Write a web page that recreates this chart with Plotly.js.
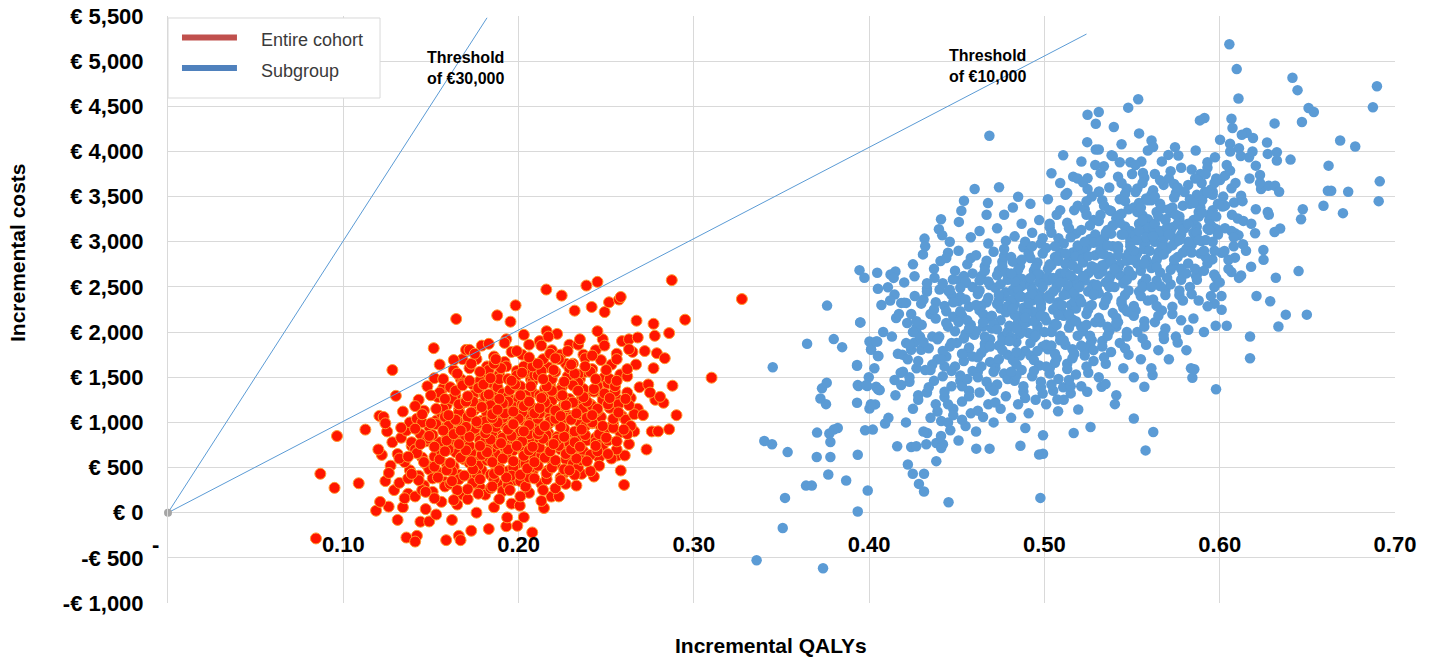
<!DOCTYPE html>
<html><head><meta charset="utf-8">
<script src="https://cdn.plot.ly/plotly-3.0.1.min.js"></script>
<style>html,body{margin:0;padding:0;background:#fff}</style>
</head><body><div id="chart" style="width:1431px;height:657px"></div>
<script>
const xTickVals = [0, 0.1, 0.2, 0.3, 0.4, 0.5, 0.6, 0.7];
const xTickText = ['-\u00a0\u00a0\u00a0\u00a0', '0.10', '0.20', '0.30', '0.40', '0.50', '0.60', '0.70'];
const yTickVals = [-1000, -500, 0, 500, 1000, 1500, 2000, 2500, 3000, 3500, 4000, 4500, 5000, 5500];
const yTickText = ['-€ 1,000', '-€ 500', '€ 0', '€ 500', '€ 1,000', '€ 1,500', '€ 2,000', '€ 2,500', '€ 3,000', '€ 3,500', '€ 4,000', '€ 4,500', '€ 5,000', '€ 5,500'];
const seriesNames = ['Entire cohort', 'Subgroup'];
const axisTitles = ['Incremental QALYs', 'Incremental costs'];
const thresholdLabels = ['Threshold<br>of €30,000', 'Threshold<br>of €10,000'];
const threshold30QALY = [0, 0.182];
const threshold30Cost = [0, 5480];
const threshold10QALY = [0, 0.524];
const threshold10Cost = [0, 5300];
const originQALY = [0];
const originCost = [0];

const cohortPoints = [
[0.1206,1072],[0.1126,920],[0.0964,849],[0.0869,431],[0.095,275],[0.1088,326],[0.1187,22],[0.1259,67],[0.0844,-285],[0.130,1294],
[0.121,120],[0.124,350],[0.127,520],[0.122,640],[0.128,780],[0.125,900],[0.129,250],[0.123,1060],[0.126,440],[0.120,700],[0.128,1580],[0.124,990],
[0.131,-80],[0.134,60],[0.137,210],[0.132,330],[0.138,470],[0.135,560],[0.131,650],[0.139,740],[0.133,830],[0.136,910],[0.138,1000],[0.134,1120],[0.137,380],[0.132,600],[0.139,780],[0.136,-275],[0.135,160],[0.133,940],
[0.142,-256],[0.141,-320],[0.144,-100],[0.147,40],[0.141,180],[0.146,300],[0.143,410],[0.148,520],[0.145,610],[0.141,700],[0.147,790],[0.144,870],[0.149,950],[0.142,1040],[0.146,1130],[0.143,1250],[0.148,1400],[0.145,250],[0.149,480],[0.142,660],[0.148,820],[0.145,1000],[0.141,1180],[0.149,-97],
[0.1587,-304],[0.153,-20],[0.156,120],[0.151,230],[0.158,340],[0.154,450],[0.159,540],[0.152,620],[0.157,700],[0.155,780],[0.151,860],[0.158,940],[0.153,1020],[0.156,1100],[0.159,1190],[0.154,1280],[0.157,1380],[0.152,1490],[0.1516,1822],[0.155,1640],[0.158,290],[0.152,510],[0.156,670],[0.159,820],[0.153,980],[0.157,1150],[0.155,1330],[0.151,380],[0.158,1060],
[0.1659,-256],[0.1669,-304],[0.162,-80],[0.165,90],[0.168,200],[0.161,320],[0.166,420],[0.163,510],[0.169,590],[0.164,670],[0.161,750],[0.167,830],[0.163,900],[0.168,980],[0.162,1060],[0.166,1140],[0.169,1220],[0.164,1300],[0.161,1390],[0.167,1480],[0.163,1580],[0.168,1700],[0.1644,2145],[0.165,250],[0.162,460],[0.168,630],[0.164,800],[0.160,960],[0.166,1110],[0.162,1260],[0.168,1430],[0.166,370],[0.160,700],[0.165,1020],[0.170,1803],[0.172,1803],
[0.173,-200],[0.176,0],[0.171,150],[0.178,280],[0.174,380],[0.179,470],[0.172,550],[0.177,620],[0.175,690],[0.171,760],[0.178,830],[0.173,900],[0.176,960],[0.179,1020],[0.172,1080],[0.175,1140],[0.178,1200],[0.171,1270],[0.177,1340],[0.174,1420],[0.179,1510],[0.172,1600],[0.176,1700],[0.179,1850],[0.174,330],[0.177,520],[0.173,660],[0.178,800],[0.175,930],[0.171,1060],[0.177,1180],[0.174,1300],[0.178,1460],[0.173,1650],[0.176,430],[0.172,740],[0.177,990],[0.174,1230],
[0.183,-180],[0.186,60],[0.181,200],[0.188,320],[0.184,420],[0.189,500],[0.182,580],[0.187,650],[0.185,720],[0.181,790],[0.188,860],[0.183,920],[0.186,980],[0.189,1040],[0.182,1100],[0.185,1160],[0.188,1220],[0.181,1290],[0.187,1360],[0.184,1440],[0.189,1530],[0.182,1620],[0.186,1730],[0.183,1870],[0.1878,2185],[0.184,270],[0.187,460],[0.183,610],[0.188,760],[0.185,890],[0.181,1010],[0.187,1130],[0.184,1250],[0.188,1390],[0.183,1580],[0.186,370],[0.182,700],[0.187,950],[0.184,1190],[0.189,1480],
[0.193,-150],[0.1935,-52],[0.196,100],[0.191,240],[0.198,360],[0.194,460],[0.199,540],[0.192,620],[0.197,690],[0.195,760],[0.191,830],[0.198,890],[0.193,950],[0.196,1010],[0.199,1070],[0.192,1130],[0.195,1190],[0.198,1250],[0.191,1320],[0.197,1400],[0.194,1480],[0.199,1570],[0.192,1670],[0.196,1780],[0.193,1920],[0.1954,2115],[0.194,300],[0.197,500],[0.193,650],[0.198,800],[0.195,930],[0.191,1050],[0.197,1170],[0.194,1290],[0.198,1440],[0.193,1620],[0.196,410],[0.192,730],[0.197,990],[0.194,1230],[0.199,1520],[0.196,860],[0.192,1100],
[0.2078,-219],[0.1993,-145],[0.203,-50],[0.2007,78],[0.206,220],[0.201,350],[0.208,450],[0.204,540],[0.209,620],[0.202,700],[0.207,770],[0.205,840],[0.201,900],[0.208,960],[0.203,1020],[0.206,1080],[0.209,1140],[0.202,1200],[0.205,1260],[0.208,1330],[0.201,1400],[0.207,1480],[0.204,1560],[0.209,1650],[0.202,1750],[0.206,1860],[0.203,1970],[0.1983,2296],[0.204,290],[0.207,500],[0.203,660],[0.208,810],[0.205,940],[0.201,1060],[0.207,1180],[0.204,1300],[0.208,1450],[0.203,1620],[0.206,390],[0.202,730],[0.207,1000],[0.204,1240],[0.209,1520],[0.206,870],[0.202,1110],
[0.2145,52],[0.2187,178],[0.213,320],[0.216,430],[0.211,520],[0.218,600],[0.214,680],[0.219,750],[0.212,820],[0.217,880],[0.215,940],[0.211,1000],[0.218,1060],[0.213,1120],[0.216,1180],[0.219,1240],[0.212,1300],[0.215,1370],[0.218,1440],[0.211,1520],[0.217,1610],[0.214,1700],[0.219,1800],[0.212,1900],[0.216,2010],[0.214,250],[0.217,470],[0.213,640],[0.218,790],[0.215,920],[0.211,1040],[0.217,1160],[0.214,1280],[0.218,1410],[0.213,1570],[0.216,370],[0.212,720],[0.217,980],[0.214,1220],[0.219,1480],[0.216,860],[0.212,1100],[0.218,1760],[0.2158,2471],
[0.2269,319],[0.223,180],[0.226,440],[0.221,540],[0.228,620],[0.224,700],[0.229,770],[0.222,840],[0.227,900],[0.225,960],[0.221,1020],[0.228,1080],[0.223,1140],[0.226,1200],[0.229,1260],[0.222,1330],[0.225,1400],[0.228,1480],[0.221,1560],[0.227,1650],[0.224,1750],[0.229,1860],[0.222,1980],[0.2246,2404],[0.224,390],[0.227,590],[0.223,740],[0.228,870],[0.225,990],[0.221,1110],[0.227,1230],[0.224,1360],[0.228,1510],[0.223,1700],[0.226,480],[0.222,810],[0.227,1050],[0.224,1290],[0.229,1600],[0.226,930],
[0.233,300],[0.236,430],[0.231,540],[0.238,640],[0.234,720],[0.239,800],[0.232,870],[0.237,940],[0.235,1000],[0.231,1070],[0.238,1130],[0.233,1200],[0.236,1260],[0.239,1330],[0.232,1400],[0.235,1480],[0.238,1560],[0.231,1650],[0.237,1750],[0.234,1860],[0.232,2237],[0.234,500],[0.237,680],[0.233,830],[0.238,960],[0.235,1090],[0.231,1220],[0.237,1370],[0.234,1530],[0.238,1710],[0.236,580],[0.232,900],[0.237,1160],[0.234,1440],
[0.243,400],[0.2459,609],[0.246,520],[0.241,640],[0.248,740],[0.244,830],[0.249,910],[0.242,990],[0.247,1060],[0.245,1130],[0.241,1200],[0.248,1270],[0.243,1340],[0.246,1420],[0.249,1500],[0.242,1590],[0.247,1690],[0.244,1800],[0.248,1920],[0.2417,2278],[0.2491,2222],[0.2387,2515],[0.245,2556],[0.244,780],[0.247,950],[0.243,1100],[0.248,1250],[0.245,1400],[0.241,1560],[0.246,870],[0.242,1180],
[0.2564,634],[0.2606,634],[0.2583,467],[0.2602,308],[0.253,600],[0.256,700],[0.251,800],[0.258,890],[0.254,980],[0.259,1070],[0.252,1160],[0.257,1250],[0.255,1340],[0.251,1430],[0.258,1530],[0.253,1640],[0.256,1760],[0.259,1900],[0.2516,2330],[0.2573,2360],[0.2583,2389],[0.254,940],[0.257,1200],[0.252,1480],
[0.263,760],[0.266,900],[0.261,1030],[0.268,1150],[0.264,1270],[0.269,1390],[0.262,1510],[0.267,1640],[0.265,1780],[0.263,1920],[0.2673,2126],[0.266,1090],[0.262,1330],[0.264,960],
[0.273,700],[0.276,900],[0.271,1080],[0.278,1250],[0.274,1420],[0.277,1600],[0.272,1790],[0.277,2092],[0.2777,1959],[0.275,1330],
[0.2796,901],[0.2859,924],[0.2827,1217],[0.2807,1283],[0.2878,1406],[0.2789,1766],[0.2834,1711],[0.2859,1989],[0.2874,2575],[0.2901,1080],
[0.295,2137],[0.3101,1495],[0.3274,2366],
[0.152,160],[0.163,140],[0.177,210],[0.189,150],[0.201,180],[0.213,130],[0.147,230],[0.171,260],[0.195,250],[0.221,270],[0.185,290],
[0.143,360],[0.154,390],[0.162,350],[0.169,410],[0.178,370],[0.186,430],[0.193,390],[0.201,420],[0.209,380],[0.216,440],[0.224,360],[0.232,420],[0.139,430],[0.159,470],[0.174,480],[0.189,470],[0.205,490],[0.219,500],[0.229,470],[0.241,460],
[0.146,560],[0.155,590],[0.161,550],[0.167,610],[0.173,570],[0.179,640],[0.185,560],[0.191,600],[0.197,570],[0.203,630],[0.209,560],[0.215,610],[0.221,580],[0.227,650],[0.233,600],[0.239,570],[0.245,680],[0.251,650],[0.158,680],[0.170,690],[0.182,670],[0.194,700],[0.206,690],[0.218,680],[0.230,700],[0.137,620],
[0.144,760],[0.152,730],[0.159,800],[0.166,760],[0.172,840],[0.178,740],[0.184,810],[0.190,770],[0.196,850],[0.202,790],[0.208,730],[0.214,820],[0.220,760],[0.226,840],[0.232,780],[0.238,860],[0.244,740],[0.250,830],[0.256,790],[0.163,870],[0.181,880],[0.199,740],[0.211,870],[0.235,730],[0.149,850],[0.262,870],
[0.141,930],[0.150,990],[0.157,910],[0.164,1030],[0.170,950],[0.176,1010],[0.182,930],[0.188,1000],[0.194,920],[0.200,1040],[0.206,970],[0.212,910],[0.218,1010],[0.224,950],[0.230,1030],[0.236,920],[0.242,1000],[0.248,960],[0.254,1040],[0.260,920],[0.167,910],[0.185,1050],[0.203,900],[0.221,1040],[0.239,1050],[0.197,980],[0.215,960],
[0.145,1090],[0.153,1150],[0.160,1080],[0.166,1200],[0.173,1110],[0.179,1170],[0.185,1090],[0.191,1210],[0.197,1120],[0.203,1180],[0.209,1100],[0.215,1220],[0.221,1130],[0.227,1190],[0.233,1100],[0.239,1230],[0.245,1150],[0.251,1200],[0.257,1110],[0.263,1190],[0.170,1230],[0.188,1140],[0.206,1230],[0.224,1070],[0.242,1080],[0.212,1160],
[0.150,1300],[0.158,1260],[0.164,1350],[0.171,1290],[0.177,1380],[0.183,1310],[0.189,1260],[0.195,1360],[0.201,1300],[0.207,1400],[0.213,1270],[0.219,1350],[0.225,1300],[0.231,1410],[0.237,1280],[0.243,1370],[0.249,1320],[0.255,1400],[0.261,1260],[0.180,1420],[0.198,1420],[0.216,1400],[0.234,1350],[0.252,1270],[0.168,1410],
[0.157,1480],[0.165,1540],[0.172,1460],[0.178,1560],[0.184,1490],[0.190,1600],[0.196,1460],[0.202,1550],[0.208,1620],[0.214,1480],[0.220,1580],[0.226,1450],[0.232,1540],[0.238,1620],[0.244,1480],[0.250,1580],[0.256,1460],[0.262,1590],[0.186,1650],[0.211,1650],[0.230,1640],
[0.163,1690],[0.175,1760],[0.187,1700],[0.199,1790],[0.206,1720],[0.213,1850],[0.221,1710],[0.228,1790],[0.235,1920],[0.242,1740],[0.249,1850],[0.256,1700],[0.263,1810],[0.192,1880],[0.217,1950],[0.245,2010],[0.268,1940]
];

const subgroupPoints = [
[0.376,2293],[0.3949,2107],[0.4154,2156],[0.3646,1870],[0.3798,1922],[0.3846,1833],[0.345,1610],[0.3931,1628],[0.4002,1895],[0.4046,1895],[0.4011,1803],[0.4053,1736],[0.3731,1377],[0.3758,1439],[0.3722,1265],[0.3754,1202],[0.3939,1402],[0.3989,1402],[0.3998,1499],[0.405,1366],[0.4059,1358],[0.3931,1217],[0.4002,1154],[0.4034,1199],[0.4091,987],[0.3977,913],[0.4021,920],[0.3821,938],[0.3798,920],[0.3773,876],[0.3779,782],[0.3703,887],[0.3402,793],[0.3446,757],[0.3535,671],[0.3701,616],[0.3779,616],[0.3935,642],[0.3767,423],[0.3869,356],[0.364,300],[0.3673,300],[0.3992,245],[0.352,164],[0.3935,14],[0.3507,-170],[0.3358,-526],[0.3737,-615],[0.4453,115],[0.4221,534],[0.4249,431],[0.4313,431],[0.4284,319],[0.4313,234],[0.4383,571],[0.416,735],[0.424,727],[0.4269,735],[0.4326,757],[0.4383,771],[0.4421,757],[0.4411,716],[0.4331,883],[0.4463,913],[0.4411,1016],[0.4611,709],[0.4687,709],[0.4863,742],[0.4891,938],[0.4977,164],[0.497,645],[0.42,2326],
[0.4992,653],[0.4992,857],[0.5577,690],[0.5621,894],[0.551,1043],[0.5402,1202],[0.5263,949],[0.5167,883],[0.5193,1143],[0.5078,1124],[0.5074,1254],[0.5979,1366],[0.5844,1495],[0.5836,1599],[0.5855,1588],[0.6173,1711],[0.6173,1951],[0.5977,2070],[0.604,2070],[0.6335,2062],[0.6377,2193],[0.6497,2193],[0.6288,2341],[0.6011,2248],[0.597,2315],[0.5931,2285],[0.5821,2026],[0.576,1884],[0.5682,1922],[0.557,1394],[0.5326,1394],[0.5349,1424],[0.5244,1339],[0.5107,1388],[0.515,1321],[0.5617,1525],
[0.6055,5187],[0.6097,4912],[0.6107,4586],[0.6415,4817],[0.6444,4679],[0.6897,4723],[0.6874,4489],[0.6507,4482],[0.6537,4437],[0.6469,4326],[0.6313,4311],[0.6687,4121],[0.6773,4054],[0.6621,3843],[0.6913,3669],[0.6907,3450],[0.6636,3565],[0.6617,3565],[0.6733,3554],[0.6592,3398],[0.6703,3317],[0.6474,3361],[0.6464,3250],[0.6345,3146],[0.6313,3108],[0.6249,2908],[0.6179,2723],[0.632,2601],[0.645,2675],[0.6202,3094],[0.6274,3331],[0.6206,3361],[0.6404,3910],[0.6326,3899],[0.6326,3992],[0.6274,3973],[0.6236,3584],[0.6278,3621],[0.6316,3621],[0.6339,3554],[0.6206,3843],[0.623,3740],[0.6167,3936],[0.6187,3999],[0.611,4036],[0.6059,4085],[0.6002,4129],[0.6154,4207],[0.6126,4185],[0.6073,4260],[0.6067,4363],[0.5913,4371],[0.5887,4344],[0.5611,4121],[0.5863,4010],[0.5535,4578],[0.5478,4485],[0.5246,4407],[0.531,4437],[0.5293,4307],[0.5396,4270],[0.5244,4103],[0.5293,4021],[0.531,4021],[0.5107,3958],[0.5211,3888],[0.504,3758],[0.5383,3958],[0.543,3881],[0.5339,3836],[0.5164,3721],[0.5246,3703],[0.513,3539],[0.5246,3584],[0.5312,3558],[0.5553,3888],[0.5562,3762],[0.5745,4048],[0.5707,3962],[0.5764,3955],[0.5973,3936],[0.593,3881],[0.6002,3684],[0.603,3732],[0.6059,3788],[0.6067,3592],[0.5897,3651],[0.5916,3554],[0.596,3554],[0.6082,3435],[0.6122,3509],[0.6103,3257],[0.6135,3231],[0.6017,3391],[0.6087,3094],[0.6107,3072],[0.6067,3120],[0.6133,2972],[0.6087,2824],[0.6067,2664],[0.6122,2627],[0.6011,2879],[0.6027,2897],[0.5958,2805],[0.5969,2638],[0.5865,2619],[0.5897,3008],[0.583,2953],[0.5793,3158],[0.5869,3169],[0.5931,3147],[0.5973,3147],[0.4686,4174],
[0.4602,3584],[0.4741,3603],[0.4541,3454],[0.4526,3343],[0.4512,3220],[0.4678,3428],[0.485,3498],[0.4316,3035],[0.4398,3139],[0.4417,3072],[0.4307,2860],[0.445,2879],[0.4407,2786],[0.3945,2686],[0.3973,2601],[0.4046,2657],[0.4122,2638],[0.415,2671],[0.4259,2619],[0.405,2479],[0.4107,2497],[0.4145,2415],[0.4183,2323],[0.4211,2323],[0.4297,2315],[0.395,2107],[0.433,2479],[0.4402,2471],[0.4453,2452],[0.4516,2575],[0.4554,2545],[0.4478,2582],[0.4373,2601],[0.4217,2100],[0.4269,2007],[0.4211,1878],[0.4259,1884],[0.4297,1803],[0.4011,1811],[0.404,1895],[0.405,1736],[0.3931,1636],[0.3935,1413],[0.3983,1413],[0.404,1394],[0.4059,1358],[0.4145,1469],[0.4183,1413],[0.4193,1562],[0.4164,1759],[0.424,1803],
[0.403,1600],[0.407,2300],[0.401,1200],[0.408,2000],
[0.411,1050],[0.415,1300],[0.418,1550],[0.413,1950],[0.417,2200],[0.412,2350],[0.419,1750],[0.414,2600],
[0.421,1000],[0.425,1150],[0.428,1300],[0.423,1450],[0.427,1600],[0.422,1700],[0.429,1950],[0.424,2200],[0.426,2400],[0.420,2550],[0.425,2750],[0.428,1250],[0.423,1500],[0.427,2050],
[0.431,900],[0.435,1050],[0.438,1200],[0.433,1330],[0.437,1460],[0.432,1580],[0.439,1700],[0.434,1820],[0.436,1950],[0.430,2080],[0.435,2200],[0.438,2330],[0.433,2450],[0.437,2700],[0.432,2950],[0.439,1120],[0.434,1390],[0.436,1640],[0.431,1890],[0.438,2150],
[0.441,850],[0.445,1000],[0.448,1150],[0.443,1280],[0.447,1400],[0.442,1510],[0.449,1620],[0.444,1730],[0.446,1840],[0.440,1950],[0.445,2060],[0.448,2170],[0.443,2290],[0.447,2410],[0.442,2540],[0.449,2680],[0.444,2820],[0.446,3000],[0.441,3250],[0.448,1080],[0.443,1340],[0.447,1570],[0.442,1790],[0.449,2010],[0.444,2230],[0.446,2470],[0.445,1200],
[0.451,800],[0.455,960],[0.458,1100],[0.453,1230],[0.457,1350],[0.452,1460],[0.459,1570],[0.454,1680],[0.456,1780],[0.450,1880],[0.455,1980],[0.458,2080],[0.453,2180],[0.457,2280],[0.452,2390],[0.459,2500],[0.454,2620],[0.456,2750],[0.451,2900],[0.458,3050],[0.453,1030],[0.457,1290],[0.452,1520],[0.459,1730],[0.454,1930],[0.456,2130],[0.451,2340],[0.455,2560],[0.458,2820],[0.453,1400],[0.457,1830],[0.452,2230],
[0.461,900],[0.465,1060],[0.468,1200],[0.463,1330],[0.467,1450],[0.462,1560],[0.469,1670],[0.464,1770],[0.466,1870],[0.460,1970],[0.465,2060],[0.468,2150],[0.463,2240],[0.467,2330],[0.462,2420],[0.469,2520],[0.464,2620],[0.466,2730],[0.461,2850],[0.468,2980],[0.463,3120],[0.467,3300],[0.462,1130],[0.469,1390],[0.464,1620],[0.466,1820],[0.461,2010],[0.465,2200],[0.468,2380],[0.463,2570],[0.467,2790],[0.462,1500],[0.469,1920],[0.464,2290],[0.466,2680],
[0.471,1000],[0.475,1150],[0.478,1290],[0.473,1420],[0.477,1540],[0.472,1650],[0.479,1750],[0.474,1850],[0.476,1950],[0.470,2040],[0.475,2130],[0.478,2220],[0.473,2310],[0.477,2400],[0.472,2490],[0.479,2580],[0.474,2680],[0.476,2780],[0.471,2890],[0.478,3010],[0.473,3150],[0.477,3300],[0.472,1220],[0.479,1480],[0.474,1700],[0.476,1900],[0.471,2090],[0.475,2260],[0.478,2440],[0.473,2630],[0.477,2840],[0.472,1600],[0.479,2000],[0.474,2350],[0.476,2730],[0.471,1350],
[0.481,1050],[0.485,1200],[0.488,1340],[0.483,1460],[0.487,1580],[0.482,1690],[0.489,1790],[0.484,1890],[0.486,1980],[0.480,2070],[0.485,2150],[0.488,2230],[0.483,2310],[0.487,2390],[0.482,2470],[0.489,2550],[0.484,2640],[0.486,2730],[0.481,2830],[0.488,2940],[0.483,3060],[0.487,3200],[0.482,3380],[0.489,1270],[0.484,1520],[0.486,1740],[0.481,1940],[0.485,2110],[0.488,2270],[0.483,2430],[0.487,2590],[0.482,2780],[0.489,3000],[0.484,1640],[0.486,2030],[0.481,2350],[0.485,2690],[0.488,1400],[0.483,2190],[0.487,2510],
[0.491,1100],[0.495,1250],[0.498,1390],[0.493,1510],[0.497,1630],[0.492,1740],[0.499,1840],[0.494,1940],[0.496,2030],[0.490,2110],[0.495,2190],[0.498,2270],[0.493,2350],[0.497,2430],[0.492,2510],[0.499,2590],[0.494,2680],[0.496,2770],[0.491,2870],[0.498,2980],[0.493,3100],[0.497,3240],[0.492,3420],[0.499,1320],[0.494,1570],[0.496,1790],[0.491,1990],[0.495,2150],[0.498,2310],[0.493,2470],[0.497,2640],[0.492,2820],[0.499,3040],[0.494,1690],[0.496,2070],[0.491,2390],[0.495,2720],[0.498,1450],[0.493,2230],[0.497,2550],[0.492,1880],
[0.501,1200],[0.505,1350],[0.508,1480],[0.503,1600],[0.507,1710],[0.502,1810],[0.509,1910],[0.504,2000],[0.506,2090],[0.500,2170],[0.505,2250],[0.508,2330],[0.503,2410],[0.507,2490],[0.502,2570],[0.509,2650],[0.504,2740],[0.506,2830],[0.501,2930],[0.508,3040],[0.503,3160],[0.507,3300],[0.502,3470],[0.509,3650],[0.504,1420],[0.506,1660],[0.501,1860],[0.505,2050],[0.508,2210],[0.503,2370],[0.507,2530],[0.502,2700],[0.509,2880],[0.504,3100],[0.506,1760],[0.501,2130],[0.505,2450],[0.508,2790],[0.503,1540],[0.507,2290],[0.502,2610],[0.509,1960],
[0.511,1250],[0.515,1400],[0.518,1530],[0.513,1650],[0.517,1760],[0.512,1860],[0.519,1960],[0.514,2050],[0.516,2140],[0.510,2220],[0.515,2300],[0.518,2380],[0.513,2460],[0.517,2540],[0.512,2620],[0.519,2700],[0.514,2790],[0.516,2880],[0.511,2980],[0.518,3090],[0.513,3210],[0.517,3350],[0.512,3520],[0.519,3700],[0.514,1470],[0.516,1710],[0.511,1910],[0.515,2100],[0.518,2260],[0.513,2420],[0.517,2580],[0.512,2750],[0.519,2930],[0.514,3150],[0.516,1810],[0.511,2180],[0.515,2500],[0.518,2840],[0.513,1590],[0.517,2340],[0.512,2660],[0.519,3400],
[0.521,1400],[0.525,1550],[0.528,1680],[0.523,1800],[0.527,1910],[0.522,2010],[0.529,2110],[0.524,2200],[0.526,2290],[0.520,2370],[0.525,2450],[0.528,2530],[0.523,2610],[0.527,2690],[0.522,2770],[0.529,2850],[0.524,2940],[0.526,3030],[0.521,3130],[0.528,3240],[0.523,3360],[0.527,3500],[0.522,3660],[0.529,3850],[0.524,1620],[0.526,1860],[0.521,2060],[0.525,2250],[0.528,2410],[0.523,2570],[0.527,2730],[0.522,2900],[0.529,3080],[0.524,3300],[0.526,1960],[0.521,2330],[0.525,2650],[0.528,2990],[0.523,1740],[0.527,2490],[0.522,2810],
[0.531,1500],[0.535,1650],[0.538,1780],[0.533,1900],[0.537,2010],[0.532,2110],[0.539,2210],[0.534,2300],[0.536,2390],[0.530,2470],[0.535,2550],[0.538,2630],[0.533,2710],[0.537,2790],[0.532,2870],[0.539,2950],[0.534,3040],[0.536,3130],[0.531,3230],[0.538,3340],[0.533,3460],[0.537,3600],[0.532,3760],[0.539,3950],[0.534,1720],[0.536,1960],[0.531,2160],[0.535,2350],[0.538,2510],[0.533,2670],[0.537,2830],[0.532,3000],[0.539,3180],[0.534,3400],[0.536,2060],[0.531,2430],[0.535,2750],[0.538,3090],[0.533,1840],[0.537,2590],[0.532,2910],
[0.541,1300],[0.545,1600],[0.548,1750],[0.543,1880],[0.547,2000],[0.542,2110],[0.549,2220],[0.544,2320],[0.546,2410],[0.540,2500],[0.545,2590],[0.548,2670],[0.543,2750],[0.547,2830],[0.542,2910],[0.549,2990],[0.544,3080],[0.546,3170],[0.541,3260],[0.548,3360],[0.543,3470],[0.547,3590],[0.542,3720],[0.549,3880],[0.544,4080],[0.546,1820],[0.541,2060],[0.545,2270],[0.548,2460],[0.543,2630],[0.547,2790],[0.542,2950],[0.549,3120],[0.544,3310],[0.546,3530],[0.541,2160],[0.545,2540],[0.548,2870],[0.543,3210],[0.547,1950],[0.542,2710],[0.549,3030],
[0.551,1500],[0.555,1700],[0.558,1860],[0.553,2000],[0.557,2120],[0.552,2240],[0.559,2350],[0.554,2450],[0.556,2540],[0.550,2630],[0.555,2720],[0.558,2800],[0.553,2880],[0.557,2960],[0.552,3040],[0.559,3120],[0.554,3200],[0.556,3290],[0.551,3380],[0.558,3480],[0.553,3590],[0.557,3710],[0.552,3850],[0.559,4010],[0.554,4200],[0.556,1930],[0.551,2180],[0.555,2400],[0.558,2590],[0.553,2760],[0.557,2920],[0.552,3080],[0.559,3250],[0.554,3430],[0.556,3650],[0.551,2290],[0.555,2680],[0.558,3000],[0.553,3330],[0.557,2060],[0.552,2840],[0.559,3160],
[0.561,1600],[0.565,1800],[0.568,1970],[0.563,2110],[0.567,2240],[0.562,2360],[0.569,2470],[0.564,2570],[0.566,2660],[0.560,2750],[0.565,2840],[0.568,2920],[0.563,3000],[0.567,3080],[0.562,3160],[0.569,3240],[0.564,3330],[0.566,3420],[0.561,3520],[0.568,3630],[0.563,3750],[0.567,3890],[0.562,4050],[0.569,2040],[0.564,2290],[0.566,2510],[0.561,2710],[0.565,2880],[0.568,3040],[0.563,3200],[0.567,3370],[0.562,3570],[0.569,2410],[0.564,2800],[0.566,3120],[0.561,3460],[0.565,2180],[0.568,2960],
[0.571,1700],[0.575,1950],[0.578,2130],[0.573,2280],[0.577,2410],[0.572,2530],[0.579,2640],[0.574,2740],[0.576,2830],[0.570,2920],[0.575,3000],[0.578,3080],[0.573,3160],[0.577,3240],[0.572,3320],[0.579,3400],[0.574,3490],[0.576,3590],[0.571,3700],[0.578,3820],[0.573,2200],[0.577,2460],[0.572,2690],[0.579,2880],[0.574,3040],[0.576,3200],[0.571,3360],[0.575,3540],[0.578,2580],[0.573,2960],[0.577,3280],[0.572,3120],[0.579,2350],[0.574,3640],
[0.581,1800],[0.585,2150],[0.588,2350],[0.583,2500],[0.587,2640],[0.582,2760],[0.589,2870],[0.584,2970],[0.586,3060],[0.580,3150],[0.585,3240],[0.588,3330],[0.583,3420],[0.587,3520],[0.582,3630],[0.589,3750],[0.584,2420],[0.586,2700],[0.581,2920],[0.585,3100],[0.588,3280],[0.583,3470],[0.587,2580],[0.582,3000],[0.589,3380],[0.584,3800],
[0.591,2000],[0.595,2400],[0.598,2600],[0.593,2760],[0.597,2900],[0.592,3020],[0.599,3130],[0.594,3240],[0.596,3350],[0.590,3460],[0.595,3580],[0.598,3700],[0.593,3820],[0.597,2500],[0.592,2830],[0.599,3080],[0.594,3300],[0.596,3520],[0.591,2680],[0.595,3180],
[0.601,2400],[0.605,2700],[0.608,2950],[0.603,3150],[0.607,3300],[0.602,3500],[0.609,3650],[0.604,3850],[0.606,4000],[0.600,2550],[0.605,2800],[0.608,3050],[0.603,3400],
[0.611,2600],[0.615,2900],[0.618,3200],[0.613,3450],[0.617,3700],[0.612,3950],[0.619,4150],
[0.621,2400],[0.625,2800],[0.628,3300],[0.623,3650],[0.627,4100],
[0.443,1620],[0.447,1880],[0.451,2110],[0.455,2360],[0.459,2650],[0.444,2100],[0.456,1480],[0.452,2490],[0.448,2330],[0.457,2040],[0.441,1700],[0.453,1760],
[0.462,1720],[0.466,1950],[0.470,2180],[0.474,2410],[0.478,2660],[0.463,2460],[0.471,1560],[0.476,1800],[0.468,2560],[0.473,2030],[0.479,2290],[0.465,2110],[0.477,2920],[0.461,2300],[0.469,1840],[0.475,2530],
[0.481,1560],[0.484,1780],[0.487,2000],[0.490,2210],[0.493,2420],[0.496,2640],[0.499,2870],[0.482,2260],[0.485,2470],[0.488,2080],[0.491,2320],[0.494,2120],[0.497,2360],[0.480,1900],[0.483,2560],[0.486,2390],[0.489,2160],[0.492,2600],[0.495,1960],[0.498,2180],[0.481,2650],[0.487,2800],[0.493,2950],[0.499,2500],[0.484,2040],
[0.501,1620],[0.504,1850],[0.507,2080],[0.510,2300],[0.513,2520],[0.516,2740],[0.519,2960],[0.502,2390],[0.505,2600],[0.508,2190],[0.511,2410],[0.514,2200],[0.517,2440],[0.500,2000],[0.503,2750],[0.506,2950],[0.509,2550],[0.512,2870],[0.515,2630],[0.518,2120],[0.503,3200],[0.509,3350],[0.515,3050],[0.519,2530],
[0.521,1850],[0.524,2080],[0.527,2300],[0.530,2520],[0.533,2740],[0.536,2960],[0.539,3180],[0.522,2620],[0.525,2840],[0.528,2420],[0.531,2640],[0.534,2860],[0.537,2500],[0.520,2500],[0.523,3000],[0.526,3180],[0.529,2710],[0.532,3300],[0.535,3100],[0.538,2780],[0.524,3450],[0.531,3550],[0.537,3350],[0.528,1800],
[0.541,2100],[0.544,2350],[0.547,2580],[0.550,2800],[0.553,3020],[0.556,3240],[0.559,3460],[0.542,2850],[0.545,3080],[0.548,2680],[0.551,2900],[0.554,3120],[0.557,2760],[0.540,2700],[0.543,3300],[0.546,3450],[0.549,2950],[0.552,3550],[0.555,3380],[0.558,3050],[0.544,3650],[0.550,3750],[0.556,2500],[0.547,2230],
[0.561,2500],[0.564,2720],[0.567,2940],[0.570,3160],[0.573,3380],[0.576,3600],[0.579,3140],[0.562,3060],[0.565,3280],[0.568,2860],[0.571,3080],[0.574,2800],[0.577,3020],[0.560,2900],[0.563,3500],[0.566,3680],[0.569,3250],[0.572,3780],[0.575,3300],[0.578,2700],[0.570,2600],
[0.581,2650],[0.584,2880],[0.587,3100],[0.590,3320],[0.593,3540],[0.596,3000],[0.599,3420],[0.582,3200],[0.585,3430],[0.588,3020],[0.591,2900],[0.594,3130],[0.597,3650],[0.580,3550],[0.586,3700],[0.592,3750],[0.598,3280],
[0.423,1860],[0.427,2120],[0.431,2360],[0.435,1580],[0.439,1920],[0.428,1680],[0.433,2540],[0.437,2250],[0.425,2000]
];

const tickFont = {family: 'Liberation Sans, Arial, sans-serif', size: 22, color: '#000', weight: 'bold'};
const labelFont = {family: 'Liberation Sans, Arial, sans-serif', size: 16, color: '#000', weight: 'bold'};
const titleFont = {family: 'Liberation Sans, Arial, sans-serif', size: 21, color: '#000', weight: 'bold'};
const legendFont = {family: 'Liberation Sans, Arial, sans-serif', size: 18, color: '#3a3a3a'};

const traces = [
  {type: 'scatter', mode: 'markers', name: seriesNames[0], showlegend: false,
   x: cohortPoints.map(p => p[0]), y: cohortPoints.map(p => p[1]),
   marker: {color: '#ff1500', size: 11, line: {color: '#ff9a2e', width: 1}}},
  {type: 'scatter', mode: 'markers', name: seriesNames[1], showlegend: false,
   x: subgroupPoints.map(p => p[0]), y: subgroupPoints.map(p => p[1]),
   marker: {color: '#5b9bd5', size: 10.5}},
  {type: 'scatter', mode: 'lines', showlegend: false, x: threshold30QALY, y: threshold30Cost,
   line: {color: '#5b9bd5', width: 1}},
  {type: 'scatter', mode: 'lines', showlegend: false, x: threshold10QALY, y: threshold10Cost,
   line: {color: '#5b9bd5', width: 1}},
  {type: 'scatter', mode: 'markers', showlegend: false, x: originQALY, y: originCost, cliponaxis: false,
   marker: {color: '#a5a5a5', size: 8}}
];

const layout = {
  width: 1431, height: 657, autosize: false,
  margin: {l: 168, r: 36, t: 16, b: 54},
  paper_bgcolor: '#fff', plot_bgcolor: '#fff',
  showlegend: false,
  xaxis: {range: [0, 0.7], anchor: 'free', position: 1000 / 6500, showline: false, zeroline: false,
    tickvals: xTickVals, ticktext: xTickText, ticks: '', showgrid: true, gridcolor: '#d9d9d9', gridwidth: 1,
    tickfont: tickFont, ticklabelstandoff: 16, automargin: false, fixedrange: true},
  yaxis: {range: [-1000, 5500], showline: true, linecolor: '#d9d9d9', linewidth: 1, zeroline: false,
    tickvals: yTickVals, ticktext: yTickText, ticks: '', showgrid: true, gridcolor: '#d9d9d9', gridwidth: 1,
    tickfont: tickFont, ticklabelstandoff: 19, automargin: false, fixedrange: true},
  shapes: [
    {type: 'rect', xref: 'paper', yref: 'paper', x0: 0, x1: 0.1728, y0: 0.8603, y1: 0.9966,
     fillcolor: '#fff', line: {color: '#d9d9d9', width: 1}, layer: 'above'},
    {type: 'line', xref: 'paper', yref: 'paper', x0: 0.0114, x1: 0.0562, y0: 0.9634, y1: 0.9634,
     line: {color: '#c0504d', width: 6}, layer: 'above'},
    {type: 'line', xref: 'paper', yref: 'paper', x0: 0.0114, x1: 0.0562, y0: 0.9114, y1: 0.9114,
     line: {color: '#4f81bd', width: 6}, layer: 'above'}
  ],
  annotations: [
    {xref: 'paper', yref: 'paper', x: 0.0742, y: 0.9591, xanchor: 'left', yanchor: 'middle', showarrow: false,
     text: seriesNames[0], font: legendFont},
    {xref: 'paper', yref: 'paper', x: 0.0742, y: 0.9063, xanchor: 'left', yanchor: 'middle', showarrow: false,
     text: seriesNames[1], font: legendFont},
    {xref: 'x', yref: 'y', x: 0.1697, y: 4925, xanchor: 'center', yanchor: 'middle', showarrow: false,
     text: thresholdLabels[0], font: labelFont},
    {xref: 'x', yref: 'y', x: 0.4675, y: 4947, xanchor: 'center', yanchor: 'middle', showarrow: false,
     text: thresholdLabels[1], font: labelFont},
    {xref: 'paper', yref: 'paper', x: 0.4914, y: -0.0716, xanchor: 'center', yanchor: 'middle', showarrow: false,
     text: axisTitles[0], font: titleFont},
    {xref: 'paper', yref: 'paper', x: -0.1222, y: 0.5963, xanchor: 'center', yanchor: 'middle', showarrow: false,
     textangle: -90, text: axisTitles[1], font: titleFont}
  ]
};

Plotly.newPlot('chart', traces, layout, {displayModeBar: false, staticPlot: true});
</script>
</body></html>
